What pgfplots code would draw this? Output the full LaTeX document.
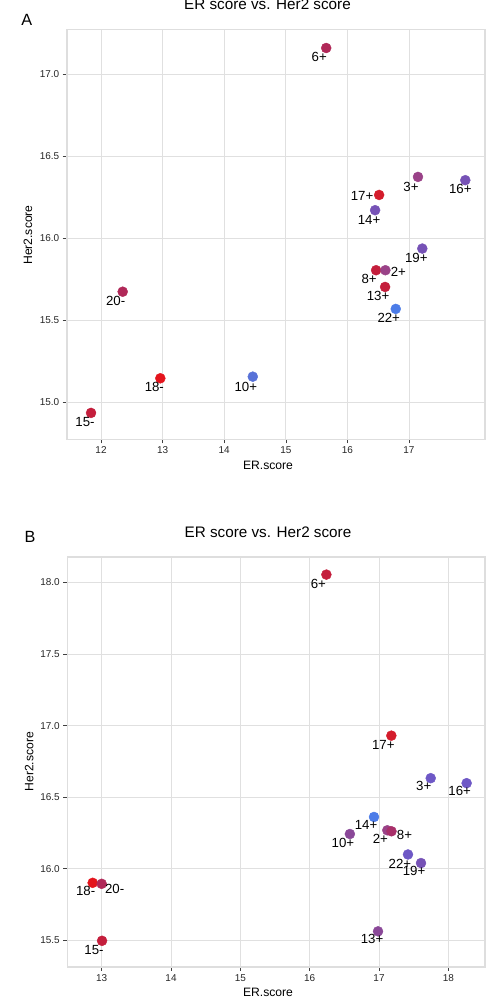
\documentclass[border=0pt]{standalone}
\usepackage{pgfplots}
\pgfplotsset{compat=1.18}
\usepackage{fontspec}
\setmainfont{Liberation Sans}

\definecolor{cRed}{HTML}{E4141C}
\definecolor{cRedB}{HTML}{D41C2C}
\definecolor{cCrim}{HTML}{C41E3C}
\definecolor{cCrimM}{HTML}{B02858}
\definecolor{cMag}{HTML}{9A4288}
\definecolor{cMagB}{HTML}{A8306A}
\definecolor{cPurM}{HTML}{8A4898}
\definecolor{cPur}{HTML}{7652B6}
\definecolor{cPurB}{HTML}{6E58C6}
\definecolor{cBlue}{HTML}{4C7CE8}
\definecolor{cBlueB}{HTML}{5872D8}

% one point: x, y, colour, label, label x-shift, label y-shift (bp)
\newcommand{\pt}[6]{%
  \addplot[only marks, mark=*, mark size=5bp, draw=#3, fill=#3,
    nodes near coords={#4},
    every node near coord/.append style={anchor=center, xshift=#5bp, yshift=#6bp,
      font=\fontsize{13.3}{15}\selectfont, text=black, inner sep=0pt}]
    coordinates {(#1,#2)};}

\pgfplotsset{
  panel/.style={
    scale only axis, anchor=south west, clip=false,
    axis line style={draw=black!13, line width=1.6bp},
    grid=major, major grid style={draw=black!12, line width=0.7bp},
    tick align=outside, tick pos=left, major tick length=4bp,
    tick style={draw=black!75, line width=0.6bp},
    tick label style={font=\fontsize{10}{12}\selectfont, text=black!85},
    /pgf/number format/assume math mode=true,
    yticklabel style={/pgf/number format/fixed, /pgf/number format/fixed zerofill, /pgf/number format/precision=1},
    xticklabel style={/pgf/number format/fixed, /pgf/number format/precision=0},
  },
}

\begin{document}
\begin{tikzpicture}
\useasboundingbox (0,0) rectangle (500bp,-1000bp);

% Panel A
\begin{axis}[panel, at={(66.7bp,-439.3bp)}, width=418.3bp, height=410bp,
  xmin=11.443, xmax=18.234, ymin=14.774, ymax=17.274,
  xtick={12,13,14,15,16,17}, ytick={15,15.5,16,16.5,17}]
\pt{15.656}{17.160}{cCrimM}{6+}{-7}{-9}
\pt{17.146}{16.374}{cMag}{3+}{-7}{-10}
\pt{17.914}{16.354}{cPur}{16+}{-5}{-9}
\pt{16.515}{16.264}{cRedB}{17+}{-17}{-1}
\pt{16.450}{16.171}{cPur}{14+}{-6}{-10}
\pt{17.216}{15.937}{cPur}{19+}{-6}{-9}
\pt{16.466}{15.805}{cCrim}{8+}{-7}{-9}
\pt{16.617}{15.805}{cMag}{2+}{13}{-2}
\pt{16.612}{15.703}{cCrim}{13+}{-7}{-9}
\pt{16.785}{15.569}{cBlue}{22+}{-7}{-9}
\pt{12.352}{15.674}{cCrimM}{20-}{-7}{-9}
\pt{12.963}{15.146}{cRed}{18-}{-6}{-9}
\pt{11.838}{14.935}{cCrim}{15-}{-6}{-9}
\pt{14.464}{15.156}{cBlueB}{10+}{-7}{-10}
\end{axis}
\node[anchor=base, font=\fontsize{15.3}{17}\selectfont] at (267.5bp,-9.3bp) {ER score vs. Her2 score};
\node[anchor=base, font=\fontsize{16.3}{18}\selectfont] at (26.7bp,-25bp) {A};
\node[anchor=base, font=\fontsize{12.2}{14}\selectfont] at (268bp,-469.3bp) {ER.score};
\node[rotate=90, font=\fontsize{12.2}{14}\selectfont] at (28bp,-235bp) {Her2.score};

% Panel B
\begin{axis}[panel, at={(67.3bp,-966.7bp)}, width=417.7bp, height=410bp,
  xmin=12.504, xmax=18.529, ymin=15.316, ymax=18.180,
  xtick={13,14,15,16,17,18}, ytick={15.5,16,16.5,17,17.5,18}]
\pt{16.241}{18.055}{cCrim}{6+}{-8}{-9}
\pt{17.178}{16.930}{cRedB}{17+}{-8}{-9}
\pt{17.746}{16.633}{cPurB}{3+}{-7}{-8}
\pt{18.264}{16.598}{cPurB}{16+}{-7}{-8}
\pt{16.928}{16.362}{cBlue}{14+}{-8}{-8}
\pt{16.580}{16.243}{cPurM}{10+}{-7}{-9}
\pt{17.120}{16.269}{cMag}{2+}{-7}{-9}
\pt{17.180}{16.262}{cMagB}{8+}{13}{-4}
\pt{17.418}{16.100}{cPurB}{22+}{-8}{-9}
\pt{17.606}{16.040}{cPur}{19+}{-7}{-8}
\pt{12.870}{15.902}{cRed}{18-}{-7}{-8}
\pt{13.000}{15.895}{cCrimM}{20-}{13}{-5}
\pt{13.005}{15.497}{cCrim}{15-}{-8}{-9}
\pt{16.986}{15.563}{cPurM}{13+}{-6}{-8}
\end{axis}
\node[anchor=base, font=\fontsize{15.3}{17}\selectfont] at (268bp,-537.3bp) {ER score vs. Her2 score};
\node[anchor=base, font=\fontsize{16.3}{18}\selectfont] at (30bp,-542.7bp) {B};
\node[anchor=base, font=\fontsize{12.2}{14}\selectfont] at (268bp,-996bp) {ER.score};
\node[rotate=90, font=\fontsize{12.2}{14}\selectfont] at (29.3bp,-761.7bp) {Her2.score};
\end{tikzpicture}
\end{document}
